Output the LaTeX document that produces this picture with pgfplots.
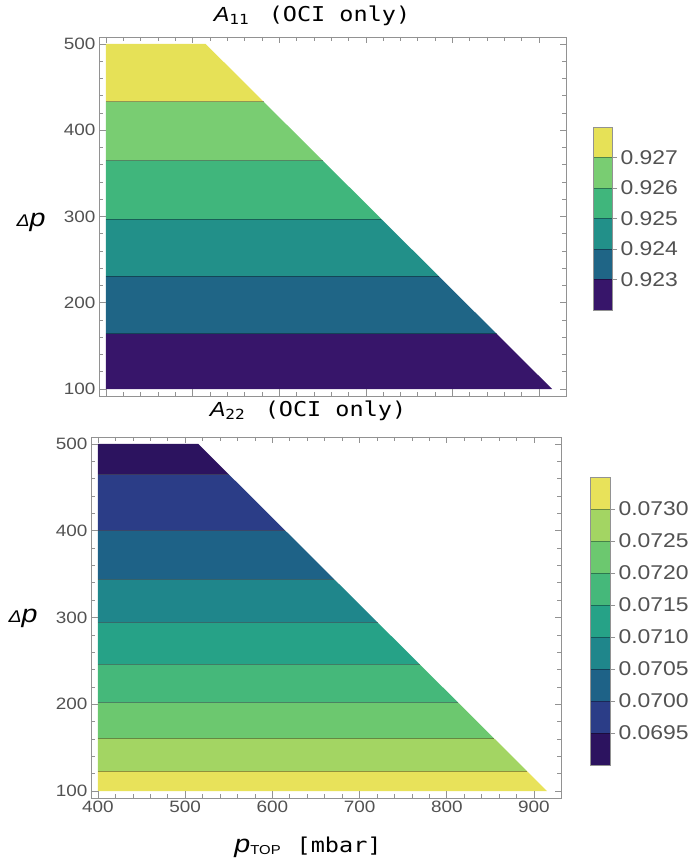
\documentclass[border=0pt]{standalone}
\usepackage{fontspec}
\setmainfont{Liberation Sans}[FakeStretch=1.15]
\newfontfamily\monof{DejaVu Sans Mono}[FakeStretch=1.15]
\usepackage{pgfplots}
\pgfplotsset{compat=1.18}
% top bands
\definecolor{t1}{HTML}{37156A}
\definecolor{t2}{HTML}{1F6586}
\definecolor{t3}{HTML}{229089}
\definecolor{t4}{HTML}{40B67C}
\definecolor{t5}{HTML}{79CD72}
\definecolor{t6}{HTML}{E6E157}
% bottom bands
\definecolor{b1}{HTML}{E8E25A}
\definecolor{b2}{HTML}{A3D563}
\definecolor{b3}{HTML}{6CC86F}
\definecolor{b4}{HTML}{45B87A}
\definecolor{b5}{HTML}{26A287}
\definecolor{b6}{HTML}{1F868B}
\definecolor{b7}{HTML}{1E6287}
\definecolor{b8}{HTML}{2B3D87}
\definecolor{b9}{HTML}{2C135F}
\definecolor{framegray}{HTML}{929292}
\pgfplotsset{
  mainax/.style={
    scale only axis, axis on top,
    xmin=392, xmax=931, ymin=92, ymax=508,
    xtick={400,500,...,900}, ytick={100,200,...,500},
    minor x tick num=4, minor y tick num=4,
    tick align=inside, tick pos=both,
    major tick length=6.5bp, minor tick length=4bp,
    every tick/.style={framegray, line width=0.7bp},
    axis line style={framegray, line width=0.9bp},
    tick label style={font=\fontsize{16.5}{16.5}\selectfont, text=black!68},
    /pgf/number format/assume math mode=true,
  },
  cbax/.style={
    scale only axis, axis on top,
    xmin=0, xmax=1, xtick=\empty,
    ytick pos=right, yticklabel pos=right,
    tick align=outside, major tick length=5bp,
    every tick/.style={framegray, line width=0.7bp},
    axis line style={framegray, line width=0.9bp},
    tick label style={font=\fontsize{20}{20}\selectfont, text=black!68},
    scaled y ticks=false,
    /pgf/number format/assume math mode=true,
    /pgf/number format/fixed,
    /pgf/number format/fixed zerofill,
  },
  band/.style={draw=none, fill=#1},
  cline/.style={draw=black, draw opacity=0.35, line width=0.9bp},
}
\begin{document}
\begin{tikzpicture}
\useasboundingbox (0,0) rectangle (689bp,861bp);
% ---------- top plot ----------
\begin{axis}[mainax, at={(99bp,465bp)}, anchor=south west,
  width=467bp, height=359bp, xticklabel=\empty]
\addplot[band=t1] coordinates {(400,100) (915,100) (851,164) (400,164)} --cycle;
\addplot[band=t2] coordinates {(400,164) (851,164) (784,231) (400,231)} --cycle;
\addplot[band=t3] coordinates {(400,231) (784,231) (718,297) (400,297)} --cycle;
\addplot[band=t4] coordinates {(400,297) (718,297) (650,365) (400,365)} --cycle;
\addplot[band=t5] coordinates {(400,365) (650,365) (582,433) (400,433)} --cycle;
\addplot[band=t6] coordinates {(400,433) (582,433) (515,500) (400,500)} --cycle;
\addplot[cline] coordinates {(400,164) (851,164)};
\addplot[cline] coordinates {(400,231) (784,231)};
\addplot[cline] coordinates {(400,297) (718,297)};
\addplot[cline] coordinates {(400,365) (650,365)};
\addplot[cline] coordinates {(400,433) (582,433)};
\end{axis}
% top colorbar
\begin{axis}[cbax, at={(593bp,551bp)}, anchor=south west,
  width=19bp, height=183bp, ymin=0.922, ymax=0.928,
  ytick={0.923,0.924,0.925,0.926,0.927},
  /pgf/number format/precision=3]
\addplot[band=t1] coordinates {(0,0.922) (1,0.922) (1,0.923) (0,0.923)} --cycle;
\addplot[band=t2] coordinates {(0,0.923) (1,0.923) (1,0.924) (0,0.924)} --cycle;
\addplot[band=t3] coordinates {(0,0.924) (1,0.924) (1,0.925) (0,0.925)} --cycle;
\addplot[band=t4] coordinates {(0,0.925) (1,0.925) (1,0.926) (0,0.926)} --cycle;
\addplot[band=t5] coordinates {(0,0.926) (1,0.926) (1,0.927) (0,0.927)} --cycle;
\addplot[band=t6] coordinates {(0,0.927) (1,0.927) (1,0.928) (0,0.928)} --cycle;
\addplot[cline] coordinates {(0,0.923) (1,0.923)};
\addplot[cline] coordinates {(0,0.924) (1,0.924)};
\addplot[cline] coordinates {(0,0.925) (1,0.925)};
\addplot[cline] coordinates {(0,0.926) (1,0.926)};
\addplot[cline] coordinates {(0,0.927) (1,0.927)};
\end{axis}
% ---------- bottom plot ----------
\begin{axis}[mainax, at={(91bp,63bp)}, anchor=south west,
  width=470bp, height=361bp]
\addplot[band=b1] coordinates {(400,100) (915,100) (892,123) (400,123)} --cycle;
\addplot[band=b2] coordinates {(400,123) (892,123) (854,161) (400,161)} --cycle;
\addplot[band=b3] coordinates {(400,161) (854,161) (813,202) (400,202)} --cycle;
\addplot[band=b4] coordinates {(400,202) (813,202) (769,246) (400,246)} --cycle;
\addplot[band=b5] coordinates {(400,246) (769,246) (721,294) (400,294)} --cycle;
\addplot[band=b6] coordinates {(400,294) (721,294) (671,344) (400,344)} --cycle;
\addplot[band=b7] coordinates {(400,344) (671,344) (615,400) (400,400)} --cycle;
\addplot[band=b8] coordinates {(400,400) (615,400) (550,465) (400,465)} --cycle;
\addplot[band=b9] coordinates {(400,465) (550,465) (515,500) (400,500)} --cycle;
\addplot[cline] coordinates {(400,123) (892,123)};
\addplot[cline] coordinates {(400,161) (854,161)};
\addplot[cline] coordinates {(400,202) (813,202)};
\addplot[cline] coordinates {(400,246) (769,246)};
\addplot[cline] coordinates {(400,294) (721,294)};
\addplot[cline] coordinates {(400,344) (671,344)};
\addplot[cline] coordinates {(400,400) (615,400)};
\addplot[cline] coordinates {(400,465) (550,465)};
\end{axis}
% bottom colorbar
\begin{axis}[cbax, at={(590bp,96bp)}, anchor=south west,
  width=20bp, height=288bp, ymin=0.069, ymax=0.0735,
  ytick={0.0695,0.07,0.0705,0.071,0.0715,0.072,0.0725,0.073},
  /pgf/number format/precision=4]
\addplot[band=b9] coordinates {(0,0.0690) (1,0.0690) (1,0.0695) (0,0.0695)} --cycle;
\addplot[band=b8] coordinates {(0,0.0695) (1,0.0695) (1,0.0700) (0,0.0700)} --cycle;
\addplot[band=b7] coordinates {(0,0.0700) (1,0.0700) (1,0.0705) (0,0.0705)} --cycle;
\addplot[band=b6] coordinates {(0,0.0705) (1,0.0705) (1,0.0710) (0,0.0710)} --cycle;
\addplot[band=b5] coordinates {(0,0.0710) (1,0.0710) (1,0.0715) (0,0.0715)} --cycle;
\addplot[band=b4] coordinates {(0,0.0715) (1,0.0715) (1,0.0720) (0,0.0720)} --cycle;
\addplot[band=b3] coordinates {(0,0.0720) (1,0.0720) (1,0.0725) (0,0.0725)} --cycle;
\addplot[band=b2] coordinates {(0,0.0725) (1,0.0725) (1,0.0730) (0,0.0730)} --cycle;
\addplot[band=b1] coordinates {(0,0.0730) (1,0.0730) (1,0.0735) (0,0.0735)} --cycle;
\addplot[cline] coordinates {(0,0.0695) (1,0.0695)};
\addplot[cline] coordinates {(0,0.0700) (1,0.0700)};
\addplot[cline] coordinates {(0,0.0705) (1,0.0705)};
\addplot[cline] coordinates {(0,0.0710) (1,0.0710)};
\addplot[cline] coordinates {(0,0.0715) (1,0.0715)};
\addplot[cline] coordinates {(0,0.0720) (1,0.0720)};
\addplot[cline] coordinates {(0,0.0725) (1,0.0725)};
\addplot[cline] coordinates {(0,0.0730) (1,0.0730)};
\end{axis}
% ---------- titles and labels ----------
\node[font=\fontsize{20.5}{20.5}\selectfont] at (312bp,845bp)
  {{\itshape A}\raisebox{-3bp}{\monof\fontsize{14}{14}\selectfont 11}\hspace{20bp}{\monof (OCI only)}};
\node[font=\fontsize{20.5}{20.5}\selectfont] at (308bp,450bp)
  {{\itshape A}\raisebox{-3bp}{\monof\fontsize{14}{14}\selectfont 22}\hspace{20bp}{\monof (OCI only)}};
\node[font=\itshape] at (31bp,639bp) {{\fontsize{17}{17}\selectfont Δ}{\fontsize{25}{25}\selectfont p}};
\node[font=\itshape] at (23bp,243bp) {{\fontsize{17}{17}\selectfont Δ}{\fontsize{25}{25}\selectfont p}};
\node[font=\fontsize{20.5}{20.5}\selectfont] at (308bp,14bp)
  {{\fontsize{25}{25}\selectfont\itshape p}\raisebox{-2bp}{\fontsize{13}{13}\selectfont TOP}\hspace{16bp}{\monof [mbar]}};
\end{tikzpicture}
\end{document}
